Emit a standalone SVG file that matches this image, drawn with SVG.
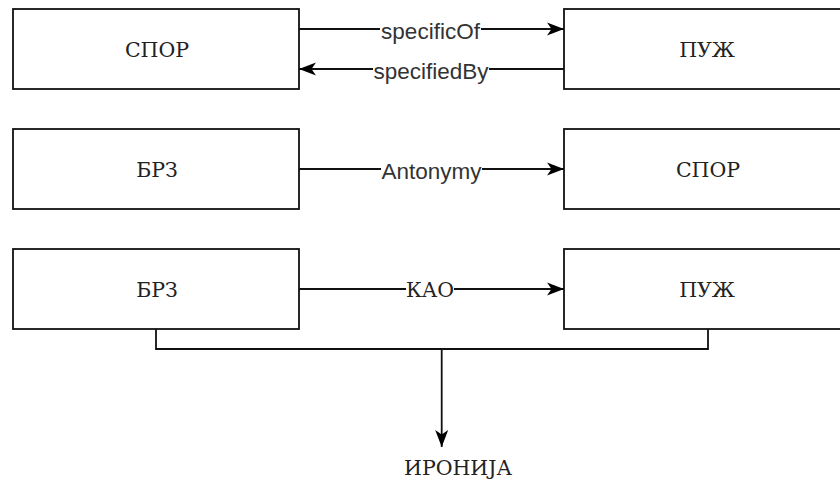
<svg xmlns="http://www.w3.org/2000/svg" width="840" height="481" viewBox="0 0 840 481">
  <style>
    .box { fill: #ffffff; stroke: #111111; stroke-width: 1.8; }
    .edge { fill: none; stroke: #111111; stroke-width: 1.8; }
    .term { font-family: "DejaVu Serif", "Liberation Serif", serif; font-size: 20.5px; fill: #222222; text-anchor: middle; }
    .rel { font-family: "Liberation Sans", Arial, sans-serif; font-size: 22.5px; fill: #333333; text-anchor: middle; }
    .relc { font-family: "DejaVu Serif", "Liberation Serif", serif; font-size: 20.5px; fill: #222222; text-anchor: middle; }
    .lblbg { fill: #ffffff; }
  </style>
  <defs>
    <marker id="arrow" markerUnits="userSpaceOnUse" markerWidth="20" markerHeight="16" viewBox="-18 -8 20 16" refX="0" refY="0" orient="auto">
      <path d="M0,0 L-17,-6.5 L-12.5,0 L-17,6.5 Z" fill="#000000"/>
    </marker>
  </defs>

  <rect width="840" height="481" fill="#ffffff"/>

  <!-- row 1 -->
  <g id="spor1">
    <rect class="box" x="13" y="9" width="286" height="80"/>
    <text class="term" x="157" y="56.5">СПОР</text>
  </g>
  <g id="puz1">
    <rect class="box" x="564" y="9" width="286" height="80"/>
    <text class="term" x="707" y="56.5">ПУЖ</text>
  </g>

  <!-- row 2 -->
  <g id="brz2">
    <rect class="box" x="13" y="129" width="286" height="80"/>
    <text class="term" x="157" y="176.5">БРЗ</text>
  </g>
  <g id="spor2">
    <rect class="box" x="564" y="129" width="286" height="80"/>
    <text class="term" x="708" y="176.5">СПОР</text>
  </g>

  <!-- row 3 -->
  <g id="brz3">
    <rect class="box" x="13" y="249" width="286" height="80"/>
    <text class="term" x="157" y="296.5">БРЗ</text>
  </g>
  <g id="puz3">
    <rect class="box" x="564" y="249" width="286" height="80"/>
    <text class="term" x="707" y="296.5">ПУЖ</text>
  </g>

  <!-- result -->
  <g id="ironija">
    <text class="term" x="458" y="475">ИРОНИЈА</text>
  </g>

  <g id="connectors">
    <path class="edge" d="M299,29 H564" marker-end="url(#arrow)"/>
    <path class="edge" d="M564,69 H299" marker-end="url(#arrow)"/>
    <path class="edge" d="M299,169 H564" marker-end="url(#arrow)"/>
    <path class="edge" d="M299,289 H564" marker-end="url(#arrow)"/>
    <path class="edge" d="M156,329 V349 H708 V329"/>
    <path class="edge" d="M441.7,349 V447" marker-end="url(#arrow)"/>

    <!-- edge labels -->
    <rect class="lblbg" x="380" y="18" width="101" height="24"/>
    <text class="rel" x="430.5" y="38.5">specificOf</text>
    <rect class="lblbg" x="373" y="58" width="116" height="24"/>
    <text class="rel" x="431" y="78.5">specifiedBy</text>
    <rect class="lblbg" x="381" y="158" width="101" height="24"/>
    <text class="rel" x="431.5" y="178.5">Antonymy</text>
    <rect class="lblbg" x="406" y="278" width="48" height="22"/>
    <text class="relc" x="430" y="296.5">КАО</text>
  </g>
</svg>
